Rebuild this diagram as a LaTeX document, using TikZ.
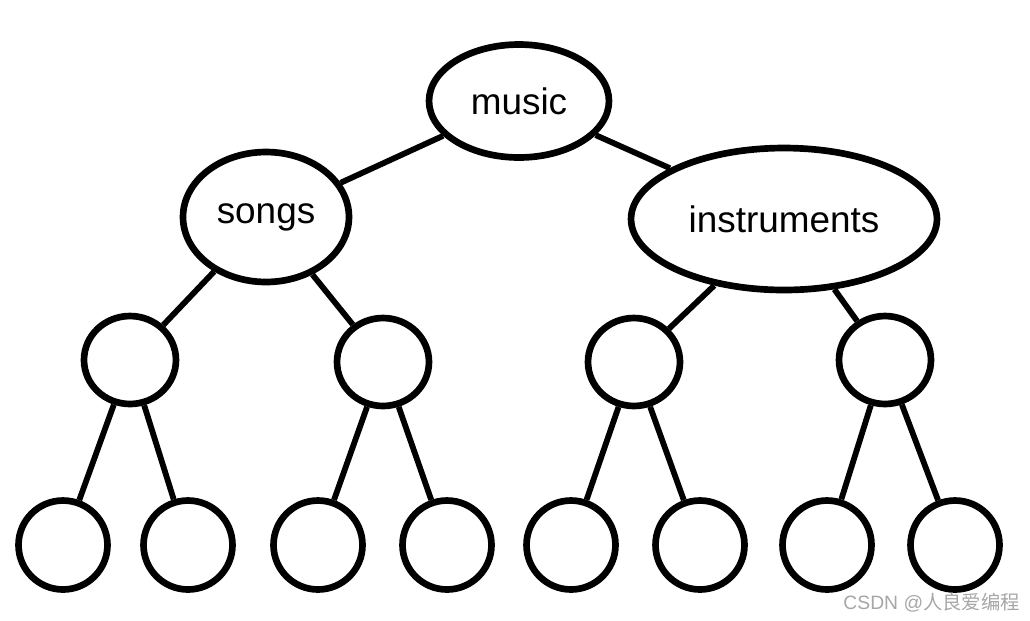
\documentclass[tikz,border=0pt]{standalone}
\usepackage{fontspec}
\setmainfont{Liberation Sans}
\newfontfamily\cjkfont{Noto Sans CJK SC}
\usetikzlibrary{shapes.geometric}

\begin{document}
\begin{tikzpicture}[x=0.02cm, y=-0.02cm,
    topic/.style={draw=black, ellipse, line width=3.8pt, inner sep=0pt, fill=white,
                  font=\fontsize{21}{24}\selectfont},
    leaf/.style={draw=black, ellipse, line width=3.8pt, inner sep=0pt, fill=white,
                 minimum width=1.84cm, minimum height=1.76cm},
    leafb/.style={leaf, minimum width=1.78cm, minimum height=1.78cm},
    link/.style={line width=3.3pt, draw=black}]

  \useasboundingbox (0,0) rectangle (1030,620);

  % the three labelled nodes
  \node[topic, minimum width=3.6cm, minimum height=2.26cm]  (mus) at (519,101) {music};
  \node[topic, minimum width=3.32cm, minimum height=2.6cm]  (sng) at (266,217) {songs};
  \node[topic, minimum width=6.12cm, minimum height=2.84cm] (ins) at (784,219) {instruments};

  % empty circles
  \node[leaf] (a1) at (130,360) {};
  \node[leaf] (a2) at (383,362) {};
  \node[leaf] (a3) at (634,362) {};
  \node[leaf] (a4) at (885,360) {};

  \node[leafb] (b1) at (63,545)  {};
  \node[leafb] (b2) at (188,545) {};
  \node[leafb] (b3) at (318,545) {};
  \node[leafb] (b4) at (447,545) {};
  \node[leafb] (b5) at (571,545) {};
  \node[leafb] (b6) at (700,545) {};
  \node[leafb] (b7) at (827,545) {};
  \node[leafb] (b8) at (955,545) {};

  \foreach \a/\b in {mus/sng,mus/ins,sng/a1,sng/a2,ins/a3,ins/a4,
                     a1/b1,a1/b2,a2/b3,a2/b4,a3/b5,a3/b6,a4/b7,a4/b8} {
    \draw[link] (\a) -- (\b);
  }

  \node[text=gray!70, font=\fontsize{11}{13}\selectfont, anchor=east] (wm) at (1026,603)
    {CSDN @{\cjkfont 人良爱编程}};

\end{tikzpicture}
\end{document}
